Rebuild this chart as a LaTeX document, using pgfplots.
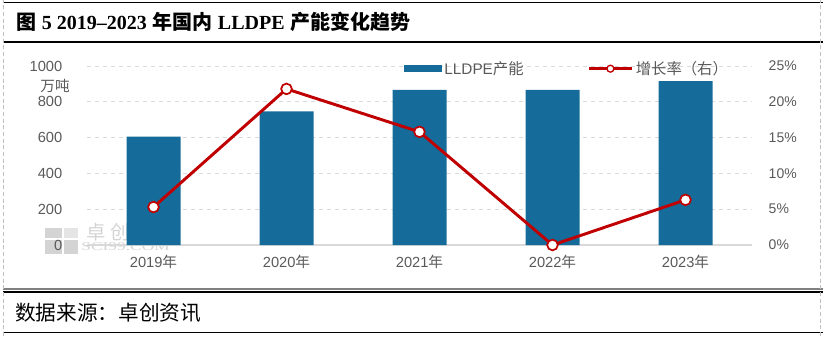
\documentclass[border=0pt]{standalone}
\usepackage{pgfplots}
\pgfplotsset{compat=1.18}
\usepackage{fontspec}
\setmainfont{Liberation Sans}
\newfontfamily\cjk{Noto Sans CJK SC}
\newfontfamily\serif{Liberation Serif}
\definecolor{barblue}{HTML}{156B99}
\definecolor{linered}{HTML}{C00000}
\definecolor{txtgray}{HTML}{595959}
\definecolor{gridgray}{HTML}{D9D9D9}
\definecolor{wmgray}{HTML}{D4D4D4}

\pgfplotstableread{
x cap rate
0 605 5.3
1 746 21.8
2 867 15.8
3 867 0.0
4 916 6.3
}\datatable

\pgfplotsset{
  barleg/.style={legend image code/.code={\fill[barblue] (0pt,-2.6pt) rectangle (28.5pt,2.6pt);}},
  lineleg/.style={legend image code/.code={\draw[linered, line width=2.2pt, mark=*, mark size=2.6pt, mark options={fill=white, draw=linered, line width=1pt}, mark repeat=2, mark phase=2] plot coordinates {(0pt,0pt) (16pt,0pt) (32pt,0pt)};}},
}

\begin{document}
\begin{tikzpicture}[x=0.75pt,y=0.75pt]
\path[use as bounding box] (0,0) rectangle (823,336);
% frame
\draw[black,line width=0.9pt] (3,333.5) -- (823,333.5);
\draw[black,line width=0.9pt] (3,294) -- (823,294);
\draw[gray,line width=0.8pt] (3,47) -- (823,47);
\draw[black,line width=1.4pt] (3,44.3) -- (823,44.3);
\draw[black,line width=0.9pt] (3,3.5) -- (823,3.5);
\draw[gray!50,densely dashed,line width=0.4pt] (3,0) -- (3,336);
\draw[gray!50,densely dashed,line width=0.4pt] (820,0) -- (820,336);
% title
\node[anchor=west,inner sep=0pt] at (16,314) {\fontsize{15pt}{17pt}\selectfont\bfseries{\cjk 图} {\serif 5 2019\textendash 2023} {\cjk 年国内} {\serif LLDPE} {\cjk 产能变化趋势}};
% source
\node[anchor=west,inner sep=0pt] at (15,23) {\fontsize{15.5pt}{17pt}\selectfont\cjk 数据来源：卓创资讯};
% watermark
\fill[wmgray] (45,98) rectangle (62,108);
\fill[wmgray!60] (64,98) rectangle (78,108);
\fill[wmgray] (45,82) rectangle (62,96);
\fill[wmgray] (64,82) rectangle (78,96);
\node[anchor=west,inner sep=0pt,text=wmgray] at (86,104) {\fontsize{14.5pt}{16pt}\selectfont\cjk 卓\hspace{4pt}创\hspace{4pt}资\hspace{4pt}讯};
\node[anchor=west,inner sep=0pt,text=wmgray,xscale=1.45] at (81,89) {\fontsize{9pt}{10pt}\selectfont\serif SCI99.COM};
% unit
\node[anchor=center,inner sep=0pt,text=txtgray] at (55,250) {\fontsize{11pt}{12pt}\selectfont\cjk 万吨};

\begin{axis}[
  at={(65.25pt,68.25pt)}, anchor=south west,
  scale only axis, width=498.75pt, height=134.25pt,
  xmin=-0.5, xmax=4.5, ymin=0, ymax=1000,
  axis x line*=bottom, axis y line*=left,
  x axis line style={gridgray, line width=0.8pt, -},
  y axis line style={draw=none},
  major tick length=0pt,
  xtick={0,1,2,3,4},
  xticklabels={{2019{\cjk 年}},{2020{\cjk 年}},{2021{\cjk 年}},{2022{\cjk 年}},{2023{\cjk 年}}},
  ytick={0,200,400,600,800,1000},
  ymajorgrids, grid style={gridgray, dashed, line width=0.6pt},
  tick label style={font=\fontsize{11pt}{12pt}\selectfont, text=txtgray},
  yticklabel style={xshift=-15pt},
  xticklabel style={yshift=-4pt},
  /pgf/number format/assume math mode=true,
  yticklabel={\pgfmathprintnumber[1000 sep={}]{\tick}},
  legend columns=2,
  legend style={draw=none, fill=none, at={(0.722,0.985)}, anchor=center,
    font=\fontsize{11.5pt}{12pt}\selectfont, text=txtgray,
    /tikz/every even column/.append style={column sep=46pt}},
  legend cell align=left,
]
\addplot[ybar, bar width=40.5pt, fill=barblue, draw=none, barleg]
  table[x=x,y=cap] {\datatable};
\addlegendentry{LLDPE{\cjk 产能}}
\addlegendimage{lineleg}
\addlegendentry{{\cjk 增长率（右）}}
\end{axis}

\begin{axis}[
  at={(65.25pt,68.25pt)}, anchor=south west,
  scale only axis, width=498.75pt, height=134.25pt,
  xmin=-0.5, xmax=4.5, ymin=0, ymax=25,
  axis x line=none, axis y line*=right,
  y axis line style={draw=none},
  major tick length=0pt,
  ytick={0,5,10,15,20,25},
  yticklabel={\pgfmathprintnumber{\tick}\%},
  tick label style={font=\fontsize{10.5pt}{12pt}\selectfont, text=txtgray},
  yticklabel style={xshift=9pt},
  /pgf/number format/assume math mode=true,
]
\addplot[linered, line width=2.2pt, mark=*, mark size=4pt,
  mark options={fill=white, draw=linered, line width=1.3pt}]
  table[x=x,y=rate] {\datatable};
\end{axis}
\end{tikzpicture}
\end{document}
